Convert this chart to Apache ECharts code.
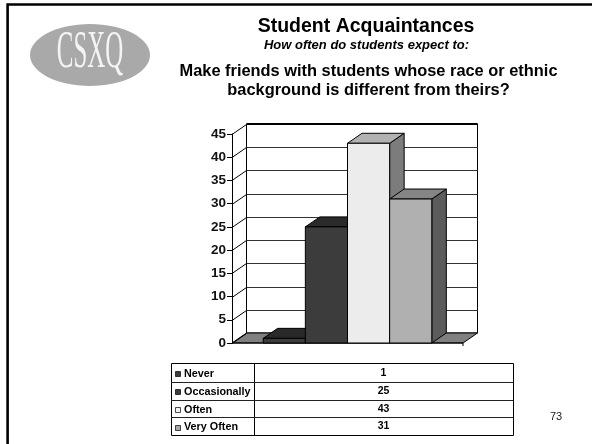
<!DOCTYPE html>
<html><head><meta charset="utf-8">
<style>html,body{margin:0;padding:0;background:#fff}#c{width:592px;height:444px}</style>
<script src="https://cdn.jsdelivr.net/npm/echarts@6/dist/echarts.min.js"></script>
</head><body><div id="c"></div>
<script>
const categories = ['Never','Occasionally','Often','Very Often'];
const values = [1,25,43,31];
const yTicks = [0,5,10,15,20,25,30,35,40,45];
const faceColors = ['#3c3c3c','#3c3c3c','#ececec','#b0b0b0'];
const topColors = ['#2a2a2a','#2a2a2a','#b2b2b2','#858585'];
const sideColors = ['#1e1e1e','#1e1e1e','#7c7c7c','#5c5c5c'];
const swatchColors = ['#3c3c3c','#3c3c3c','#f4f4f4','#a8a8a8'];
const titleText = 'Student Acquaintances';
const subtitleText = 'How often do students expect to:';
const questionText = 'Make friends with students whose race or ethnic\nbackground is different from theirs?';
const logoText = 'CSXQ';
const pageNumber = '73';

const DX = 14.5, DY = -10;
const FONT = '"Liberation Sans", Arial, sans-serif';
const line = {stroke:'#000',lineWidth:1};
const poly = (pts,fill)=>({type:'polygon',shape:{points:pts},style:{fill,stroke:'#000',lineWidth:1}});

function renderWalls(params, api){
  if (params.dataIndex !== 0) return {type:'group',children:[]};
  const x0 = api.coord([-1.24,0])[0], x1 = api.coord([4.24,0])[0];
  const y0 = api.coord([0,0])[1], yT = api.coord([0,45])[1];
  const kids = [];
  kids.push({type:'rect',shape:{x:x0+DX,y:yT+DY,width:x1-x0,height:y0-yT},style:{fill:'#fff',stroke:'#000',lineWidth:1}});
  kids.push(poly([[x0,y0],[x0+DX,y0+DY],[x1+DX,y0+DY],[x1,y0]],'#808080'));
  yTicks.forEach(t=>{
    const y = Math.round(api.coord([0,t])[1])+0.5;
    if(t>0 && t<45) kids.push({type:'line',shape:{x1:x0+DX,y1:y+DY,x2:x1+DX,y2:y+DY},style:{stroke:'#333',lineWidth:1}});
    kids.push({type:'line',shape:{x1:x0,y1:y,x2:x0+DX,y2:y+DY},style:line});
  });
  kids.push({type:'line',shape:{x1:x0+DX,y1:yT+DY,x2:x1+DX,y2:yT+DY},style:{stroke:'#000',lineWidth:2}});
  kids.push({type:'line',shape:{x1:x0,y1:y0,x2:x1,y2:y0},style:line});
  kids.push({type:'line',shape:{x1:x1,y1:y0,x2:x1,y2:y0+3},style:line});
  return {type:'group',children:kids};
}
function renderBar(params, api){
  const i = api.value(0), v = api.value(1);
  const w = api.size([1,0])[0];
  const c = api.coord([i,v]), b = api.coord([i,0]);
  const l = c[0]-w/2, r = c[0]+w/2, t = c[1], y0 = b[1];
  return {type:'group',children:[
    poly([[r,t],[r+DX,t+DY],[r+DX,y0+DY],[r,y0]],sideColors[i]),
    poly([[l,t],[l+DX,t+DY],[r+DX,t+DY],[r,t]],topColors[i]),
    {type:'rect',shape:{x:l,y:t,width:w,height:y0-t},style:{fill:faceColors[i],stroke:'#000',lineWidth:1}}
  ]};
}

const tableLeft=171, tableMid=254, tableRight=513, rowTops=[363,382,399.5,417,435];
const g = [];
// slide frame
g.push({type:'rect',shape:{x:7.6,y:4.5,width:600,height:460},style:{fill:'none',stroke:'#000',lineWidth:2.6}});
// logo
g.push({type:'ellipse',shape:{cx:90,cy:55,rx:60,ry:31},style:{fill:'#a9a9a9'}});
g.push({type:'text',x:90,y:53,scaleX:0.47,style:{text:logoText,font:'53px "Liberation Serif", serif',fill:'#f4f4f4',align:'center',verticalAlign:'middle'}});
// titles
g.push({type:'text',x:366,y:27,style:{text:titleText,font:'bold 19.5px '+FONT,fill:'#000',align:'center',verticalAlign:'middle'}});
g.push({type:'text',x:366.5,y:45.5,style:{text:subtitleText,font:'italic bold 13px '+FONT,fill:'#000',align:'center',verticalAlign:'middle'}});
g.push({type:'text',x:368.5,y:81,style:{text:questionText,font:'bold 16.4px '+FONT,lineHeight:19,fill:'#000',align:'center',verticalAlign:'middle'}});
// table
g.push({type:'rect',shape:{x:tableLeft+.5,y:rowTops[0]+.5,width:tableRight-tableLeft,height:rowTops[4]-rowTops[0]},style:{fill:'#fff',stroke:'#000',lineWidth:1}});
g.push({type:'line',shape:{x1:tableMid+.5,y1:rowTops[0],x2:tableMid+.5,y2:rowTops[4]},style:line});
categories.forEach((c,i)=>{
  if(i>0) g.push({type:'line',shape:{x1:tableLeft,y1:Math.round(rowTops[i])+.5,x2:tableRight,y2:Math.round(rowTops[i])+.5},style:{stroke:'#222',lineWidth:1}});
  const my=(rowTops[i]+rowTops[i+1])/2+1.5;
  g.push({type:'rect',shape:{x:175.5,y:Math.round(my)-2.5,width:5,height:5},style:{fill:swatchColors[i],stroke:'#000',lineWidth:.7}});
  g.push({type:'text',x:184,y:my,style:{text:c,font:'bold 10.8px '+FONT,fill:'#000',align:'left',verticalAlign:'middle'}});
  g.push({type:'text',x:383.5,y:my-1,style:{text:String(values[i]),font:'bold 10.5px '+FONT,fill:'#000',align:'center',verticalAlign:'middle'}});
});
g.push({type:'text',x:556,y:417,style:{text:pageNumber,font:'11px '+FONT,fill:'#222',align:'center',verticalAlign:'middle'}});

const chart = echarts.init(document.getElementById('c'),null,{renderer:'canvas',width:592,height:444});
chart.setOption({
  animation:false,
  backgroundColor:'#fff',
  grid:{left:232,top:134,width:231,height:209},
  xAxis:{type:'value',min:-1.24,max:4.24,show:false},
  yAxis:{type:'value',min:0,max:45,interval:5,z:5,
    axisLine:{show:true,onZero:false,lineStyle:{color:'#000',width:1}},
    axisTick:{show:true,length:5,lineStyle:{color:'#000'}},
    splitLine:{show:false},
    axisLabel:{color:'#111',fontFamily:FONT,fontWeight:'bold',fontSize:13.5,margin:6}},
  graphic:{elements:g},
  series:[
    {type:'custom',coordinateSystem:'cartesian2d',renderItem:renderWalls,silent:true,z:1,data:[[0,0]]},
    {type:'custom',coordinateSystem:'cartesian2d',renderItem:renderBar,silent:true,z:3,
      encode:{x:0,y:1},data:values.map((v,i)=>[i,v])}
  ]
});
</script></body></html>
